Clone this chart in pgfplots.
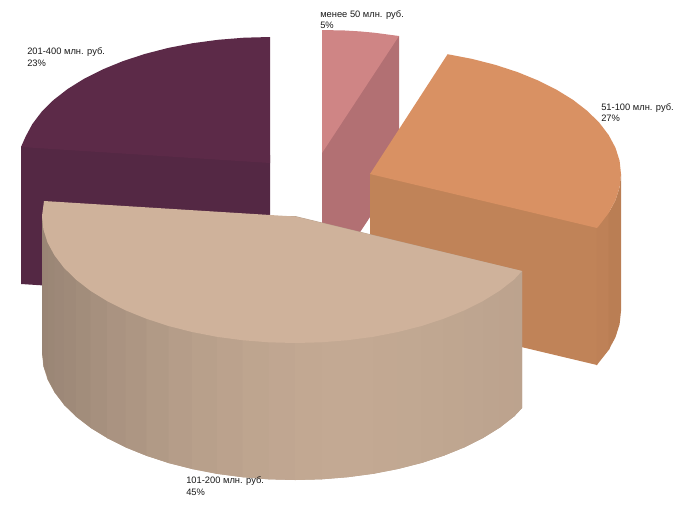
\documentclass[border=0pt]{standalone}
\usepackage{fontspec}
\setmainfont{Liberation Sans}
\usepackage{pgfplots}
\pgfplotsset{compat=1.18}

\definecolor{purpletop}{HTML}{5C2A48}
\definecolor{purplefront}{HTML}{542844}
\definecolor{pinktop}{HTML}{CF8585}
\definecolor{pinkfront}{HTML}{B27073}
\definecolor{orangetop}{HTML}{D99163}
\definecolor{orangefront}{HTML}{C08358}
\definecolor{orangeside}{HTML}{BE8157}
\definecolor{orangeside2}{HTML}{BA7E54}
\definecolor{tantop}{HTML}{CFB29B}
\definecolor{tandark}{HTML}{988474}
\definecolor{tanlight}{HTML}{C3A993}

\pgfplotsset{
  face/.style={fill=#1, draw=none},
  stripe/.style={fill=tanlight!#1!tandark, draw=none},
}

\newcommand{\lbl}[3]{\node[anchor=base west, inner sep=0pt, text=black!90, font=\fontsize{7}{9}\selectfont] at (axis cs:#1,#2) {#3};}

\begin{document}
\begin{tikzpicture}
  \begin{axis}[
    hide axis,
    scale only axis,
    width=510pt,
    height=380.25pt,
    xmin=0, xmax=680,
    ymin=0, ymax=507,
    y dir=reverse,
    ]
    \path (axis cs:0,0) rectangle (axis cs:680,507);

    % 201-400, front runs on under the top face
    \addplot[face=purplefront] coordinates {(21,147) (30,140) (270,155) (270,300) (21,284)} -- cycle;
    \addplot[face=purpletop] coordinates {
      (270,37) (243.9,37.7) (218,39.8) (192.7,43.2) (168.3,47.9) (145,53.9)
      (123,61.1) (102.7,69.4) (84.2,78.7) (67.8,88.9) (53.5,100) (41.6,111.8)
      (32.3,124.1) (25.5,136.8) (21,147) (270,163)} -- cycle;

    % menee 50
    \addplot[face=pinkfront] coordinates {(399,36) (390,38) (322,142) (322,290) (399,173)} -- cycle;
    \addplot[face=pinktop] coordinates {(322,30) (345,30.5) (360,31.4) (375,32.8) (399,36) (322,153)} -- cycle;

    % 51-100
    \addplot[face=orangefront] coordinates {(370,174) (375,168) (590,220) (597,228) (597,365) (370,311)} -- cycle;
    \addplot[face=orangeside] coordinates {(596.5,228) (609.5,211) (609.5,349) (596.5,365.5)} -- cycle;
    \addplot[face=orangeside2] coordinates {
      (608.7,212.9) (615.5,200.2) (619.6,187.2) (621,174)
      (621,311) (619.6,324.2) (615.5,337.2) (608.7,349.9)} -- cycle;
    \addplot[face=orangetop] coordinates {
      (370,174) (447.6,54.2) (472.1,58.9) (495.5,64.9) (517.6,72.1) (537.9,80.4)
      (556.5,89.7) (573.1,99.9) (587.4,111) (599.3,122.7) (608.7,135.1)
      (615.5,147.8) (619.6,160.8) (621,174) (619.6,187.2) (615.5,200.2)
      (608.7,212.9) (599.3,225.3) (597,228)} -- cycle;

    % 101-200, wall under the bands so no white shows through the seams
    \addplot[fill=tanlight!80!tandark, draw=none] coordinates {
      (42,216) (42,353) (43.4,366.3) (47.5,379.4) (54.4,392.2) (63.9,404.7)
      (75.9,416.5) (90.3,427.7) (107,438) (125.7,447.4) (146.3,455.7) (168.5,463)
      (192.1,469) (216.8,473.8) (242.4,477.2) (268.6,479.3) (295,480) (321.4,479.3)
      (347.6,477.2) (373.2,473.8) (397.9,469) (421.5,463) (443.7,455.7) (464.3,447.4)
      (483,438) (499.7,427.7) (514.1,416.5) (522,408) (522,271) (295,216)} -- cycle;
    \addplot[stripe=0] coordinates {(42,216) (44.2,229) (44.2,366.5) (42,353)} -- cycle;
    \addplot[stripe=4] coordinates {(43.4,229) (48.3,242) (48.3,379.8) (43.4,366)} -- cycle;
    \addplot[stripe=8] coordinates {(47.5,242) (55.2,255) (55.2,393) (47.5,379)} -- cycle;
    \addplot[stripe=12] coordinates {(54.4,255) (64.7,267) (64.7,405.4) (54.4,392)} -- cycle;
    \addplot[stripe=17] coordinates {(63.9,267) (76.7,279) (76.7,417) (63.9,404.7)} -- cycle;
    \addplot[stripe=24] coordinates {(75.9,279) (91.1,290) (91.1,428) (75.9,416.5)} -- cycle;
    \addplot[stripe=32] coordinates {(90.3,290) (107.8,300) (107.8,438.2) (90.3,427.7)} -- cycle;
    \addplot[stripe=41] coordinates {(107,300) (126.5,310) (126.5,447.6) (107,438)} -- cycle;
    \addplot[stripe=50] coordinates {(125.7,310) (147.1,318) (147.1,456) (125.7,447.4)} -- cycle;
    \addplot[stripe=59] coordinates {(146.3,318) (169.3,325) (169.3,463.2) (146.3,455.7)} -- cycle;
    \addplot[stripe=67] coordinates {(168.5,325) (192.9,331) (192.9,469.1) (168.5,463)} -- cycle;
    \addplot[stripe=75] coordinates {(192.1,331) (217.6,336) (217.6,473.9) (192.1,469)} -- cycle;
    \addplot[stripe=82] coordinates {(216.8,336) (243.2,339) (243.2,477.2) (216.8,473.8)} -- cycle;
    \addplot[stripe=88] coordinates {(242.4,339) (269.4,341) (269.4,479.3) (242.4,477.2)} -- cycle;
    \addplot[stripe=93] coordinates {(268.6,341) (295.8,342) (295.8,480) (268.6,479.3)} -- cycle;
    \addplot[stripe=97] coordinates {(295,342) (322.2,341) (322.2,479.3) (295,480)} -- cycle;
    \addplot[stripe=100] coordinates {(321.4,341) (348.4,339) (348.4,477.1) (321.4,479.3)} -- cycle;
    \addplot[stripe=100] coordinates {(347.6,339) (374,336) (374,473.6) (347.6,477.2)} -- cycle;
    \addplot[stripe=98] coordinates {(373.2,336) (398.7,331) (398.7,468.8) (373.2,473.8)} -- cycle;
    \addplot[stripe=96] coordinates {(397.9,331) (422.3,325) (422.3,462.7) (397.9,469)} -- cycle;
    \addplot[stripe=94] coordinates {(421.5,325) (444.5,318) (444.5,455.4) (421.5,463)} -- cycle;
    \addplot[stripe=91] coordinates {(443.7,318) (465.1,310) (465.1,447) (443.7,455.7)} -- cycle;
    \addplot[stripe=89] coordinates {(464.3,310) (483.8,300) (483.8,437.5) (464.3,447.4)} -- cycle;
    \addplot[stripe=87] coordinates {(483,300) (500.5,290) (500.5,427.1) (483,438)} -- cycle;
    \addplot[stripe=85] coordinates {(499.7,290) (514.9,279) (514.9,415.6) (499.7,427.7)} -- cycle;
    \addplot[stripe=83] coordinates {(514.1,279) (522,271) (522,408) (514.1,416.5)} -- cycle;

    \addplot[face=tantop] coordinates {
      (44,201) (42,216) (43.4,229.3) (47.5,242.4) (54.4,255.2) (63.9,267.7)
      (75.9,279.5) (90.3,290.7) (107,301) (125.7,310.4) (146.3,318.7) (168.5,326)
      (192.1,332) (216.8,336.8) (242.4,340.2) (268.6,342.3) (295,343) (321.4,342.3)
      (347.6,340.2) (373.2,336.8) (397.9,332) (421.5,326) (443.7,318.7) (464.3,310.4)
      (483,301) (499.7,290.7) (514.1,279.5) (522,271) (295,216.5) (270,215)} -- cycle;

    \lbl{320}{17.5}{менее 50 млн. руб.}
    \lbl{320}{28}{5\%}
    \lbl{27}{54}{201-400 млн. руб.}
    \lbl{27}{66}{23\%}
    \lbl{601}{110}{51-100 млн. руб.}
    \lbl{601}{121}{27\%}
    \lbl{186}{483}{101-200 млн. руб.}
    \lbl{186}{495}{45\%}
  \end{axis}
\end{tikzpicture}
\end{document}
